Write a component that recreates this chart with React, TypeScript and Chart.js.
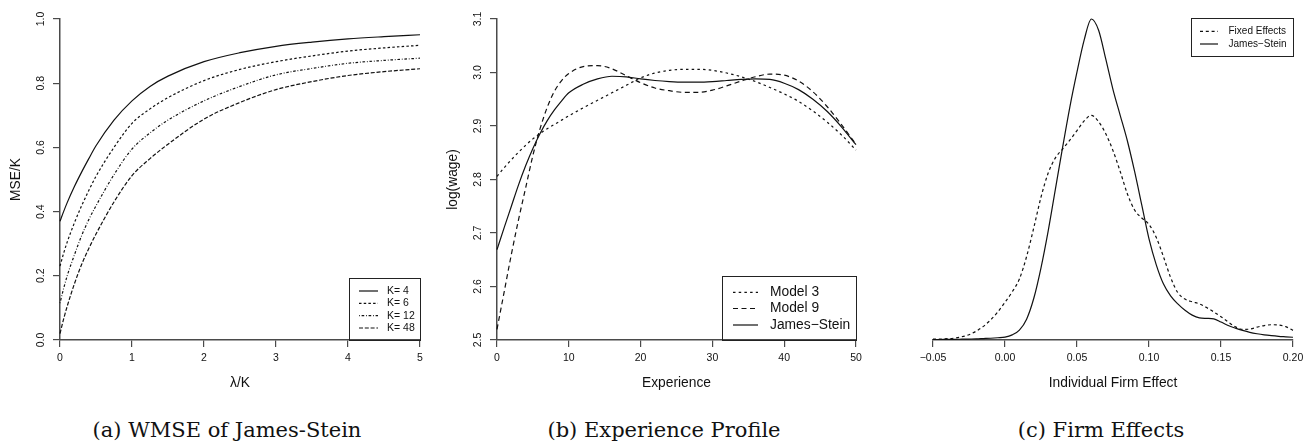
import React, { useEffect, useRef } from "react";
import { Chart, registerables } from "chart.js";

Chart.register(...registerables);

// ---------- Panel (a): WMSE of James-Stein ----------
const lambdaGrid = [0, 0.05, 0.1, 0.2, 0.3, 0.4, 0.5, 0.75, 1, 1.25, 1.5, 2, 2.5, 3, 3.5, 4, 4.5, 5];
const mseK4 = [0.370, 0.400, 0.428, 0.478, 0.523, 0.565, 0.605, 0.685, 0.745, 0.790, 0.822, 0.867, 0.895, 0.915, 0.928, 0.938, 0.945, 0.951];
const mseK6 = [0.230, 0.270, 0.305, 0.365, 0.418, 0.466, 0.510, 0.600, 0.675, 0.720, 0.755, 0.808, 0.843, 0.867, 0.885, 0.900, 0.910, 0.918];
const mseK12 = [0.115, 0.160, 0.200, 0.265, 0.325, 0.375, 0.418, 0.515, 0.595, 0.645, 0.685, 0.745, 0.790, 0.826, 0.846, 0.862, 0.871, 0.878];
const mseK48 = [0.020, 0.065, 0.105, 0.175, 0.235, 0.285, 0.330, 0.430, 0.512, 0.565, 0.610, 0.688, 0.740, 0.780, 0.805, 0.824, 0.836, 0.845];
const kLabels = ["K= 4", "K= 6", "K= 12", "K= 48"];

// ---------- Panel (b): Experience Profile ----------
const experience = [0, 1, 2, 3, 4, 5, 6, 7, 8, 9, 10, 12, 14, 16, 18, 20, 22, 24, 26, 28, 30, 32, 34, 36, 38, 40, 42, 44, 46, 48, 50];
const model3 = [2.806, 2.822, 2.837, 2.851, 2.864, 2.876, 2.886, 2.895, 2.903, 2.911, 2.919, 2.934, 2.948, 2.962, 2.976, 2.990, 2.999, 3.004, 3.006, 3.006, 3.004, 2.999, 2.992, 2.983, 2.972, 2.960, 2.946, 2.928, 2.907, 2.883, 2.855];
const model9 = [2.520, 2.590, 2.660, 2.725, 2.785, 2.845, 2.895, 2.935, 2.965, 2.985, 2.998, 3.011, 3.013, 3.007, 2.994, 2.981, 2.971, 2.966, 2.963, 2.963, 2.967, 2.975, 2.984, 2.992, 2.997, 2.995, 2.984, 2.964, 2.936, 2.902, 2.866];
const jamesSteinProfile = [2.669, 2.710, 2.750, 2.790, 2.826, 2.858, 2.886, 2.910, 2.930, 2.947, 2.962, 2.978, 2.988, 2.993, 2.992, 2.988, 2.985, 2.983, 2.982, 2.982, 2.983, 2.985, 2.987, 2.988, 2.987, 2.980, 2.968, 2.950, 2.927, 2.898, 2.865];
const profileLabels = ["Model 3", "Model 9", "James\u2212Stein"];

// ---------- Panel (c): Firm Effects ----------
const firmEffect = [
  -0.05, -0.045, -0.04, -0.035, -0.03, -0.025, -0.02, -0.015, -0.01, -0.005,
  0, 0.005, 0.01, 0.015, 0.02, 0.025, 0.03, 0.035, 0.04, 0.045,
  0.05, 0.055, 0.06, 0.065, 0.07, 0.075, 0.08, 0.085, 0.09, 0.095,
  0.1, 0.105, 0.11, 0.115, 0.12, 0.125, 0.13, 0.135, 0.14, 0.145,
  0.15, 0.155, 0.16, 0.165, 0.17, 0.175, 0.18, 0.185, 0.19, 0.195, 0.2,
];
const fixedEffectsDensity = [
  0.05, 0.06, 0.08, 0.12, 0.20, 0.33, 0.55, 0.85, 1.25, 1.75,
  2.35, 3.00, 3.80, 5.20, 7.00, 8.90, 10.40, 11.35, 11.90, 12.45,
  13.05, 13.65, 14.00, 13.60, 12.85, 11.80, 10.50, 9.10, 8.10, 7.60,
  7.20, 6.40, 5.20, 3.90, 2.95, 2.55, 2.38, 2.25, 2.02, 1.75,
  1.45, 1.12, 0.82, 0.66, 0.68, 0.80, 0.90, 0.95, 0.93, 0.83, 0.60,
];
const jamesSteinDensity = [
  0.03, 0.03, 0.04, 0.04, 0.05, 0.06, 0.07, 0.09, 0.11, 0.14,
  0.18, 0.32, 0.62, 1.30, 2.60, 4.50, 6.80, 9.40, 12.00, 14.50,
  16.70, 18.70, 20.00, 19.30, 17.50, 15.60, 14.00, 12.40, 10.50, 8.40,
  6.30, 4.70, 3.50, 2.75, 2.25, 1.85, 1.55, 1.38, 1.35, 1.32,
  1.12, 0.90, 0.74, 0.60, 0.48, 0.39, 0.32, 0.27, 0.23, 0.20, 0.17,
];
const firmLabels = ["Fixed Effects", "James\u2212Stein"];

// ---------- styling ----------
const SANS = '"Liberation Sans", Arial, Helvetica, sans-serif';
const AXIS = "#4a4a4a";
const INK = "#111";
const CANVAS_H = 400;

Chart.defaults.font.family = SANS;

const pts = (xs: number[], ys: number[]) => xs.map((x, i) => ({ x, y: ys[i] }));

function line(label: string, xs: number[], ys: number[], dash: number[]) {
  return {
    label,
    data: pts(xs, ys),
    borderColor: INK,
    borderWidth: 1.2,
    borderDash: dash,
    pointRadius: 0,
    fill: false,
    cubicInterpolationMode: "monotone" as const,
    clip: false as const,
  };
}

type LegendCfg = {
  box: [number, number, number, number];
  rows: number[];
  lineX: [number, number];
  textX: number;
  size: number;
};

function makeLegend(cfg: LegendCfg) {
  return {
    id: "rLegend",
    afterDraw(chart: any) {
      const ctx = chart.ctx as CanvasRenderingContext2D;
      ctx.save();
      const [x0, y0, x1, y1] = cfg.box;
      ctx.setLineDash([]);
      ctx.lineWidth = 1;
      ctx.strokeStyle = "#222";
      ctx.strokeRect(x0 + 0.5, y0 + 0.5, x1 - x0 - 1, y1 - y0 - 1);
      ctx.font = `${cfg.size}px ${SANS}`;
      ctx.textAlign = "left";
      ctx.textBaseline = "middle";
      chart.data.datasets.forEach((ds: any, i: number) => {
        const y = cfg.rows[i];
        ctx.beginPath();
        ctx.setLineDash(ds.borderDash || []);
        ctx.lineWidth = ds.borderWidth;
        ctx.strokeStyle = ds.borderColor;
        ctx.moveTo(cfg.lineX[0], y);
        ctx.lineTo(cfg.lineX[1], y);
        ctx.stroke();
        ctx.setLineDash([]);
        ctx.fillStyle = INK;
        ctx.fillText(ds.label, cfg.textX, y);
      });
      ctx.restore();
    },
  };
}

function xAxis(min: number, max: number, step: number, title: string, fmt: (v: number) => string) {
  return {
    type: "linear" as const,
    min,
    max,
    ticks: {
      stepSize: step,
      autoSkip: false,
      maxRotation: 0,
      padding: 5,
      color: INK,
      font: { family: SANS, size: 10.5 },
      callback: (v: any) => fmt(Number(v)),
    },
    grid: { drawOnChartArea: false, drawTicks: true, tickLength: 7, color: AXIS, lineWidth: 1.2 },
    border: { display: true, color: AXIS, width: 1.5 },
    title: { display: true, text: title, color: INK, font: { family: SANS, size: 13.8 }, padding: { top: 0, bottom: 8.7 } },
    afterFit: (s: any) => {
      s.height = CANVAS_H - 340;
    },
  };
}

function yAxis(min: number, max: number, step: number, title: string, fmt: (v: number) => string) {
  return {
    type: "linear" as const,
    min,
    max,
    ticks: {
      stepSize: step,
      autoSkip: false,
      minRotation: 90,
      maxRotation: 90,
      crossAlign: "center" as const,
      padding: 5,
      color: INK,
      font: { family: SANS, size: 10.5 },
      callback: (v: any) => fmt(Number(v)),
    },
    grid: { drawOnChartArea: false, drawTicks: true, tickLength: 7, color: AXIS, lineWidth: 1.2 },
    border: { display: true, color: AXIS, width: 1.5 },
    title: { display: true, text: title, color: INK, font: { family: SANS, size: 13.8 }, padding: { top: 7.7, bottom: 0 } },
    afterFit: (s: any) => {
      s.width = 60;
    },
  };
}

const fmt1 = (v: number) => v.toFixed(1);
const fmt0 = (v: number) => String(Math.round(v));
const fmt2 = (v: number) => (Math.abs(v) < 1e-9 ? "0.00" : v.toFixed(2).replace("-", "\u2212"));

function baseOptions(padRight: number, padLeft: number) {
  return {
    responsive: false,
    animation: false as const,
    devicePixelRatio: 1,
    layout: { padding: { top: 19, right: padRight, bottom: 0, left: padLeft } },
    plugins: { legend: { display: false }, tooltip: { enabled: false } },
  };
}

function configA(): any {
  const dashes = [[], [2.5, 2.2], [0.8, 1.8, 2.6, 1.8], [4, 1.8]];
  const series = [mseK4, mseK6, mseK12, mseK48];
  return {
    type: "line",
    data: { datasets: series.map((s, i) => line(kLabels[i], lambdaGrid, s, dashes[i])) },
    options: {
      ...baseOptions(17, 0),
      scales: {
        x: xAxis(0, 5, 1, "\u03bb/K", fmt0),
        y: yAxis(0, 1, 0.2, "MSE/K", fmt1),
      },
    },
    plugins: [makeLegend({ box: [349, 278, 421, 341], rows: [291, 303.3, 315.7, 328], lineX: [359, 378], textX: 387, size: 10.5 })],
  };
}

function configB(): any {
  const dashes = [[2.5, 3.2], [5, 3.5], []];
  const series = [model3, model9, jamesSteinProfile];
  return {
    type: "line",
    data: { datasets: series.map((s, i) => line(profileLabels[i], experience, s, dashes[i])) },
    options: {
      ...baseOptions(18, 0),
      scales: {
        x: xAxis(0, 50, 10, "Experience", fmt0),
        y: yAxis(2.5, 3.1, 0.1, "log(wage)", fmt1),
      },
    },
    plugins: [makeLegend({ box: [285, 276, 420, 341], rows: [292.3, 308.5, 325], lineX: [296, 321], textX: 333, size: 13.8 })],
  };
}

function configC(): any {
  const dashes = [[3, 2.8], []];
  const series = [fixedEffectsDensity, jamesSteinDensity];
  return {
    type: "line",
    data: { datasets: series.map((s, i) => line(firmLabels[i], firmEffect, s, dashes[i])) },
    options: {
      ...baseOptions(19, 59),
      scales: {
        x: xAxis(-0.05, 0.2, 0.05, "Individual Firm Effect", fmt2),
        y: { type: "linear", min: 0, max: 20, display: false },
      },
    },
    plugins: [makeLegend({ box: [317, 18, 420, 57], rows: [31.3, 44], lineX: [326, 344], textX: 354.5, size: 10 })],
  };
}

function Panel({ left, width, makeConfig }: { left: number; width: number; makeConfig: () => any }) {
  const ref = useRef<HTMLCanvasElement>(null);
  useEffect(() => {
    const chart = new Chart(ref.current as HTMLCanvasElement, makeConfig());
    return () => chart.destroy();
  }, []);
  return (
    <canvas
      ref={ref}
      width={width}
      height={CANVAS_H}
      style={{ position: "absolute", left, top: 0, width, height: CANVAS_H }}
    />
  );
}

function Caption({ cx, text }: { cx: number; text: string }) {
  return (
    <div
      style={{
        position: "absolute",
        left: cx - 200,
        width: 400,
        top: 418,
        height: 24,
        lineHeight: "24px",
        textAlign: "center",
        whiteSpace: "nowrap",
        fontFamily: '"DejaVu Serif", serif',
        fontSize: 21,
        color: INK,
      }}
    >
      {text}
    </div>
  );
}

export default function App() {
  return (
    <div style={{ position: "absolute", left: 0, top: 0, width: 1312, height: 448, background: "#fff", overflow: "hidden" }}>
      <Panel left={0} width={437} makeConfig={configA} />
      <Panel left={437} width={437} makeConfig={configB} />
      <Panel left={874} width={438} makeConfig={configC} />
      <Caption cx={227} text="(a) WMSE of James-Stein" />
      <Caption cx={664} text="(b) Experience Profile" />
      <Caption cx={1101} text="(c) Firm Effects" />
    </div>
  );
}
